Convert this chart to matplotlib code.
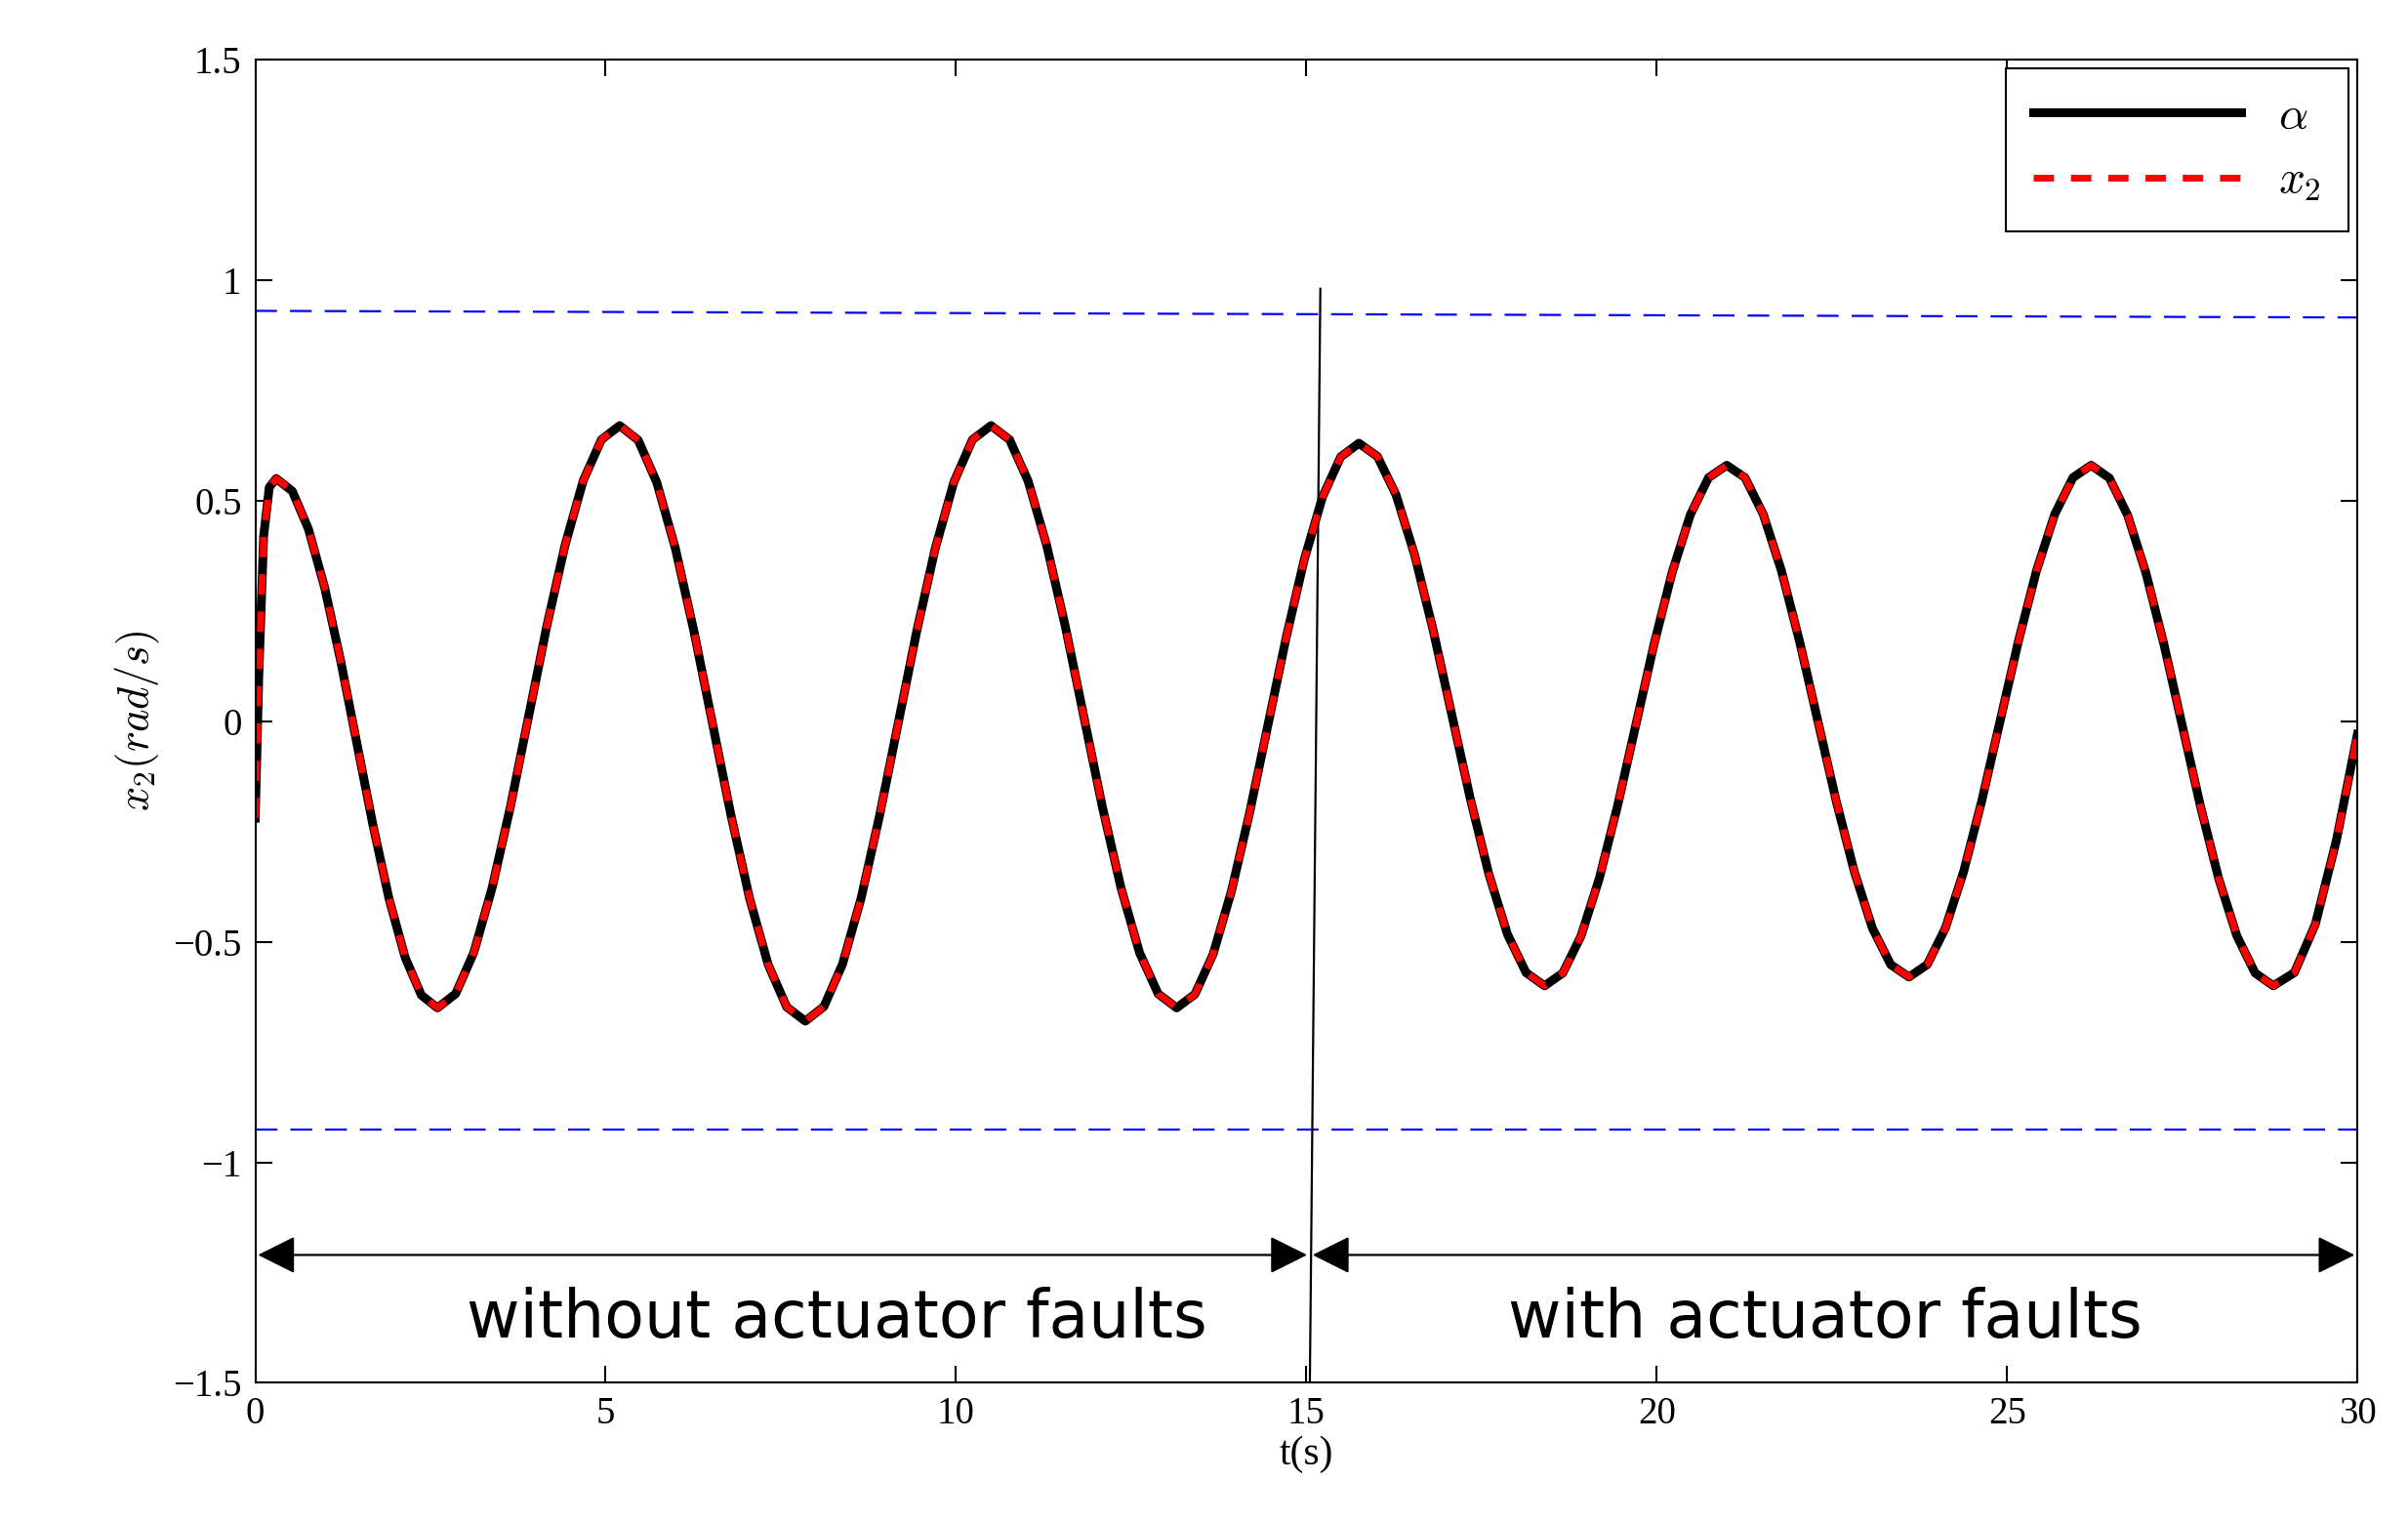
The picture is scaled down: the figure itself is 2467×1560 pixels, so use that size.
import numpy as np
import matplotlib.pyplot as plt

plt.rcParams['mathtext.fontset'] = 'cm'
plt.rcParams['font.family'] = ['Liberation Serif', 'DejaVu Serif']

# x2 / alpha trajectory (s, rad/s)
t = [0.0, 0.05, 0.12, 0.2,
     0.3, 0.53, 0.76, 0.99, 1.22, 1.45, 1.68, 1.91, 2.14, 2.37, 2.6,
     2.86, 3.12, 3.38, 3.64, 3.9, 4.16, 4.42, 4.68, 4.94, 5.2,
     5.465, 5.73, 5.995, 6.26, 6.525, 6.79, 7.055, 7.32, 7.585, 7.85,
     8.115, 8.38, 8.645, 8.91, 9.175, 9.44, 9.705, 9.97, 10.235, 10.5,
     10.765, 11.03, 11.295, 11.56, 11.825, 12.09, 12.355, 12.62, 12.885, 13.15,
     13.41, 13.67, 13.93, 14.19, 14.45, 14.71, 14.97, 15.23, 15.49, 15.75,
     16.015, 16.28, 16.545, 16.81, 17.075, 17.34, 17.605, 17.87, 18.135, 18.4,
     18.66, 18.92, 19.18, 19.44, 19.7, 19.96, 20.22, 20.48, 20.74, 21.0,
     21.26, 21.52, 21.78, 22.04, 22.3, 22.56, 22.82, 23.08, 23.34, 23.6,
     23.86, 24.12, 24.38, 24.64, 24.9, 25.16, 25.42, 25.68, 25.94, 26.2,
     26.46, 26.72, 26.98, 27.24, 27.5, 27.76, 28.02, 28.28, 28.54, 28.8,
     29.1, 29.4, 29.7, 30.0]
x2 = [-0.22, 0.1, 0.42, 0.53,
      0.55, 0.521, 0.435, 0.303, 0.136, -0.05, -0.236, -0.403, -0.536, -0.621, -0.65,
      -0.618, -0.524, -0.378, -0.195, 0.01, 0.215, 0.398, 0.545, 0.638, 0.67,
      0.637, 0.541, 0.392, 0.204, -0.005, -0.214, -0.402, -0.552, -0.648, -0.68,
      -0.647, -0.551, -0.402, -0.214, -0.005, 0.204, 0.392, 0.542, 0.638, 0.67,
      0.638, 0.544, 0.398, 0.215, 0.01, -0.195, -0.378, -0.525, -0.618, -0.65,
      -0.619, -0.528, -0.386, -0.208, -0.01, 0.188, 0.366, 0.508, 0.599, 0.63,
      0.6, 0.513, 0.377, 0.206, 0.015, -0.176, -0.347, -0.483, -0.57, -0.6,
      -0.571, -0.487, -0.357, -0.193, -0.01, 0.173, 0.337, 0.468, 0.552, 0.58,
      0.552, 0.469, 0.341, 0.18, 0.0, -0.18, -0.341, -0.47, -0.552, -0.58,
      -0.552, -0.469, -0.341, -0.18, 0.0, 0.18, 0.341, 0.469, 0.552, 0.58,
      0.551, 0.467, 0.337, 0.173, -0.01, -0.193, -0.357, -0.487, -0.571, -0.6,
      -0.57, -0.46, -0.27, -0.03]

bound_t = [0, 30]
bound_up = [0.93, 0.915]
bound_lo = [-0.925, -0.925]
fault_line_t = [15.05, 15.2]
fault_line_y = [-1.5, 0.98]

fig = plt.figure(figsize=(24.67, 15.6), dpi=100)
ax = fig.add_axes([0.106, 0.092, 0.873, 0.869])

ax.plot(bound_t, bound_up, color='blue', ls=(0, (10, 6)), lw=1.6)
ax.plot(bound_t, bound_lo, color='blue', ls=(0, (10, 6)), lw=1.6)
ax.plot(fault_line_t, fault_line_y, color='black', lw=1.6)
ax.plot(t, x2, color='black', lw=6.5, solid_joinstyle='round', label=r'$\alpha$')
ax.plot(t, x2, color='red', lw=5, ls=(0, (3, 2.5)), dash_joinstyle='round',
        label=r'$x_2$')

arr = dict(arrowstyle='<|-|>', color='black', lw=1.6, mutation_scale=60)
ax.annotate('', xy=(0, -1.21), xytext=(15.05, -1.21), arrowprops=arr)
ax.annotate('', xy=(15.05, -1.21), xytext=(30, -1.21), arrowprops=arr)
ax.text(8.3, -1.355, 'without actuator faults', ha='center', va='center',
        fontsize=48, family='DejaVu Sans')
ax.text(22.4, -1.355, 'with actuator faults', ha='center', va='center',
        fontsize=48, family='DejaVu Sans')

ax.set_xlim(0, 30)
ax.set_ylim(-1.5, 1.5)
ax.set_xticks([0, 5, 10, 15, 20, 25, 30])
ax.set_yticks([-1.5, -1, -0.5, 0, 0.5, 1, 1.5])
ax.set_yticklabels(['\u22121.5', '\u22121', '\u22120.5', '0', '0.5', '1', '1.5'])
ax.tick_params(direction='in', top=True, right=True, labelsize=28, length=12, width=1.5, pad=10)
for s in ax.spines.values():
    s.set_linewidth(1.5)
ax.set_xlabel('t(s)', fontsize=30, labelpad=2)
ax.set_ylabel(r'$x_2(rad/s)$', fontsize=32, labelpad=8)

leg = ax.legend(loc='upper right', fontsize=34, handlelength=4.5, fancybox=False,
                edgecolor='black', framealpha=1, borderpad=0.6, borderaxespad=0.2)
leg.get_frame().set_linewidth(1.5)

fig.savefig('out.png', dpi=100)
